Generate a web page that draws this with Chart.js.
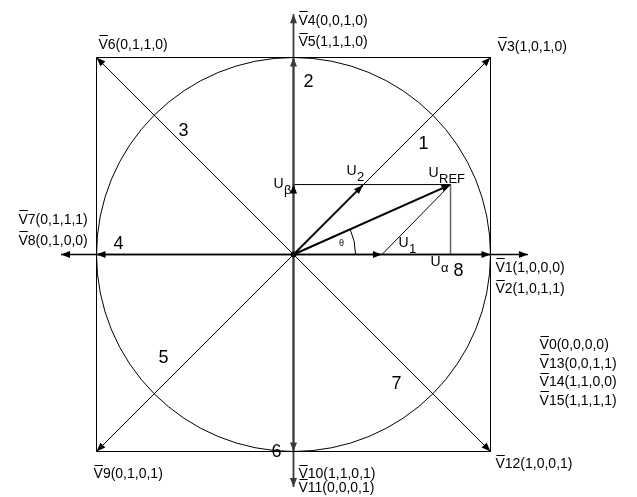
<!DOCTYPE html>
<html>
<head>
<meta charset="utf-8">
<script src="https://cdn.jsdelivr.net/npm/chart.js@4"></script>
<style>
html,body{margin:0;padding:0;background:#fff;}
#wrap{width:637px;height:497px;}
</style>
</head>
<body>
<div id="wrap"><canvas id="c" width="637" height="497"></canvas></div>
<script>
// ---- data (space-vector diagram, units: square half-side = 1) ----
const squareCorners = [[-1,1],[1,1],[1,-1],[-1,-1],[-1,1]];
const axisVectors = [[1,0],[1.19,0],[-1,0],[-1.18,0]];
const vertVectors = [[0,1],[0,1.22],[0,-1],[0,-1.18]];
const diagVectors = [[1,1],[-1,1],[-1,-1],[1,-1]];
const uRef = [0.797, 0.355];
const u1 = [0.449, 0];
const u2 = [0.352, 0.352];
const uBeta = [0, 0.355];
const uAlpha = [0.797, 0];
const circleRadius = 1;
const thetaRadius = 0.315;

const vectorLabels = ['V4(0,0,1,0)','V5(1,1,1,0)','V6(0,1,1,0)','V3(1,0,1,0)',
  'V7(0,1,1,1)','V8(0,1,0,0)','V1(1,0,0,0)','V2(1,0,1,1)',
  'V0(0,0,0,0)','V13(0,0,1,1)','V14(1,1,0,0)','V15(1,1,1,1)',
  'V9(0,1,0,1)','V10(1,1,0,1)','V11(0,0,0,1)','V12(1,0,0,1)'];
const sectorLabels = ['1','2','3','4','5','6','7','8'];
const uLabels = [['U','β'],['U','2'],['U','REF'],['U','1'],['U','α']];

// ---- layout (positions in data units) ----
const vectorLabelPos = [[0.025,1.185],[0.025,1.076],[-0.99,1.061],[1.036,1.051],
  [-1.396,0.173],[-1.396,0.066],[1.025,-0.071],[1.025,-0.178],
  [1.249,-0.462],[1.249,-0.558],[1.249,-0.650],[1.249,-0.746],
  [-1.015,-1.117],[0.025,-1.117],[0.025,-1.188],[1.025,-1.066]];
const sectorPos = [[0.66,0.563],[0.076,0.873],[-0.558,0.629],[-0.888,0.051],
  [-0.66,-0.528],[-0.086,-1.005],[0.523,-0.66],[0.838,-0.086]];
const uLabelPos = [[-0.102,0.355],[0.269,0.421],[0.685,0.411],[0.533,0.056],[0.695,-0.041]];
const thetaPos = [0.244, 0.056];

const FONT = '"Liberation Sans", Arial, sans-serif';
const pt = a => ({x:a[0], y:a[1]});
const O = [0,0];

const datasets = [];
function seg(points, color, width, arrow){
  datasets.push({type:'line', data:points.map(pt), borderColor:color, borderWidth:width,
    pointRadius:0, fill:false, tension:0, arrow:!!arrow, arrowColor:color});
}
seg(squareCorners, '#000', 1, false);
diagVectors.forEach(v => seg([O, v], '#000', 1, true));
axisVectors.slice().reverse().forEach(v => seg([O, v], '#000', 1.5, true));
vertVectors.slice().reverse().forEach(v => seg([O, v], '#3a3a3a', 1.8, true));
seg([uBeta, uRef], '#000', 1, false);
seg([uRef, uAlpha], '#666', 1.5, false);
seg([u1, uRef], '#000', 1, false);
seg([O, u1], '#000', 1, true);
seg([O, u2], '#000', 2, true);
seg([O, uRef], '#000', 2, true);
seg([O, uBeta], '#000', 1, true);

const diagramPlugin = {
  id:'diagram',
  beforeDatasetsDraw(chart){
    const ctx = chart.ctx, xs = chart.scales.x, ys = chart.scales.y;
    const cx = xs.getPixelForValue(0), cy = ys.getPixelForValue(0);
    const r = xs.getPixelForValue(circleRadius) - cx;
    ctx.save();
    ctx.strokeStyle = '#000'; ctx.lineWidth = 1;
    ctx.beginPath(); ctx.arc(cx, cy, r, 0, Math.PI*2); ctx.stroke();
    // theta arc
    const tr = xs.getPixelForValue(thetaRadius) - cx;
    const ang = Math.atan2(uRef[1], uRef[0]);
    ctx.beginPath(); ctx.arc(cx, cy, tr, -ang, 0); ctx.stroke();
    ctx.restore();
  },
  afterDatasetsDraw(chart){
    const ctx = chart.ctx, xs = chart.scales.x, ys = chart.scales.y;
    ctx.save();
    chart.data.datasets.forEach((ds, i) => {
      if (!ds.arrow) return;
      const pts = chart.getDatasetMeta(i).data;
      const a = pts[pts.length-2], b = pts[pts.length-1];
      const ang = Math.atan2(b.y - a.y, b.x - a.x);
      const L = 9, W = 3.5;
      ctx.fillStyle = ds.arrowColor;
      ctx.beginPath();
      ctx.moveTo(b.x, b.y);
      ctx.lineTo(b.x - L*Math.cos(ang) + W*Math.sin(ang), b.y - L*Math.sin(ang) - W*Math.cos(ang));
      ctx.lineTo(b.x - L*Math.cos(ang) - W*Math.sin(ang), b.y - L*Math.sin(ang) + W*Math.cos(ang));
      ctx.closePath(); ctx.fill();
    });
    // origin dot
    ctx.fillStyle = '#000';
    ctx.beginPath(); ctx.arc(xs.getPixelForValue(0), ys.getPixelForValue(0), 3, 0, Math.PI*2); ctx.fill();

    ctx.fillStyle = '#000';
    ctx.textBaseline = 'middle';
    ctx.textAlign = 'left';
    // vector labels with overline on V
    ctx.font = '14px ' + FONT;
    vectorLabels.forEach((t, i) => {
      const x = xs.getPixelForValue(vectorLabelPos[i][0]);
      const y = ys.getPixelForValue(vectorLabelPos[i][1]);
      ctx.fillText(t, x, y);
      const w = ctx.measureText('V').width;
      const oy = Math.round(y - 10) + 0.5;
      ctx.strokeStyle = '#000'; ctx.lineWidth = 1;
      ctx.beginPath(); ctx.moveTo(x + 1, oy); ctx.lineTo(x + w, oy); ctx.stroke();
    });
    // sector numbers
    ctx.font = '18px ' + FONT;
    ctx.textAlign = 'center';
    sectorLabels.forEach((t, i) => {
      ctx.fillText(t, xs.getPixelForValue(sectorPos[i][0]), ys.getPixelForValue(sectorPos[i][1]));
    });
    // U labels with subscripts
    ctx.textAlign = 'left';
    uLabels.forEach((p, i) => {
      const x = xs.getPixelForValue(uLabelPos[i][0]);
      const y = ys.getPixelForValue(uLabelPos[i][1]);
      ctx.font = '14px ' + FONT;
      ctx.fillText(p[0], x, y);
      const w = ctx.measureText(p[0]).width;
      ctx.font = '13px ' + FONT;
      ctx.fillText(p[1], x + w + 0.5, y + 6);
    });
    ctx.font = '9px ' + FONT;
    ctx.textAlign = 'center';
    ctx.fillText('θ', xs.getPixelForValue(thetaPos[0]), ys.getPixelForValue(thetaPos[1]));
    ctx.restore();
  }
};

new Chart(document.getElementById('c'), {
  type:'scatter',
  data:{datasets},
  options:{
    responsive:false, animation:false, devicePixelRatio:1,
    layout:{padding:0},
    plugins:{legend:{display:false}, tooltip:{enabled:false}, title:{display:false}},
    scales:{
      x:{type:'linear', display:false, min:-1.48985, max:1.74365},
      y:{type:'linear', display:false, min:-1.23096, max:1.29188}
    },
    elements:{line:{borderCapStyle:'butt'}}
  },
  plugins:[diagramPlugin]
});
</script>
</body>
</html>
